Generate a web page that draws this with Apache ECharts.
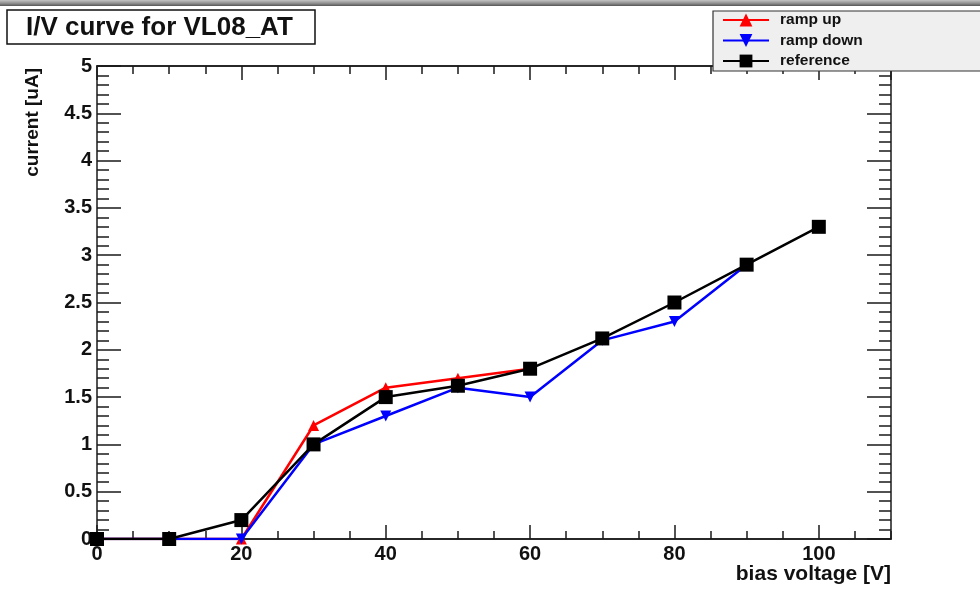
<!DOCTYPE html>
<html>
<head>
<meta charset="utf-8">
<script src="https://cdn.jsdelivr.net/npm/echarts@6/dist/echarts.min.js"></script>
<style>
  html, body { margin: 0; padding: 0; background: #fff; }
  #chart { width: 980px; height: 594px; }
</style>
</head>
<body>
<div id="chart"></div>
<script>
// Bias voltage steps [V]
const voltage = [0, 10, 20, 30, 40, 50, 60, 70, 80, 90, 100];
// Measured current [uA]
const rampUp = [0, 0, 0, 1.2, 1.6, 1.7, 1.8];
const rampDown = [0, 0, 0, 1.0, 1.3, 1.6, 1.5, 2.1, 2.3, 2.9];
const reference = [0, 0, 0.2, 1.0, 1.5, 1.62, 1.8, 2.12, 2.5, 2.9, 3.3];

const seriesNames = ['ramp up', 'ramp down', 'reference'];
const titleText = 'I/V curve for VL08_AT';
const xTitle = 'bias voltage [V]';
const yTitle = 'current [uA]';

const FONT = '"Liberation Sans", Arial, Helvetica, sans-serif';
const AXIS_COLOR = '#1a1a1a';

function pairs(values) {
  return values.map((v, i) => [voltage[i], v]);
}

function xAxisDef(position, interval, tickLen, withLabels) {
  return {
    type: 'value',
    position: position,
    min: 0,
    max: 110,
    interval: interval,
    axisLine: { show: true, onZero: false, lineStyle: { color: AXIS_COLOR, width: 1.5 } },
    axisTick: { show: true, inside: true, length: tickLen, lineStyle: { color: AXIS_COLOR, width: 1.5 } },
    axisLabel: withLabels ? {
      show: true, showMaxLabel: false, margin: 5,
      fontFamily: FONT, fontWeight: 'bold', fontSize: 20, color: '#111'
    } : { show: false },
    splitLine: { show: false }
  };
}

function yAxisDef(position, withLabels) {
  return {
    type: 'value',
    position: position,
    min: 0,
    max: 5,
    interval: 0.5,
    axisLine: { show: true, onZero: false, lineStyle: { color: AXIS_COLOR, width: 1.5 } },
    axisTick: { show: true, inside: true, length: 24, lineStyle: { color: AXIS_COLOR, width: 1.5 } },
    minorTick: { show: true, splitNumber: 5, length: 12, lineStyle: { color: AXIS_COLOR, width: 1.5 } },
    axisLabel: withLabels ? {
      show: true, margin: 5,
      fontFamily: FONT, fontWeight: 'bold', fontSize: 20, color: '#111'
    } : { show: false },
    splitLine: { show: false }
  };
}

const chart = echarts.init(document.getElementById('chart'), null, { renderer: 'canvas' });

chart.setOption({
  backgroundColor: '#ffffff',
  animation: false,
  grid: { left: 97, right: 89, top: 66, bottom: 55, containLabel: false, outerBoundsMode: 'none' },
  xAxis: [
    xAxisDef('bottom', 20, 14, true),
    xAxisDef('bottom', 5, 8, false),
    xAxisDef('top', 20, 14, false),
    xAxisDef('top', 5, 8, false)
  ],
  yAxis: [
    yAxisDef('left', true),
    yAxisDef('right', false)
  ],
  legend: {
    data: seriesNames,
    orient: 'vertical',
    left: 722,
    top: 12,
    padding: 0,
    itemWidth: 46,
    itemHeight: 16,
    itemGap: 4.5,
    z: 10,
    textStyle: {
      fontFamily: FONT, fontWeight: 'bold', fontSize: 15.5, color: '#111',
      padding: [0, 0, 0, 6]
    }
  },
  graphic: [
    {
      type: 'rect', z: 5, silent: true,
      shape: { x: 0, y: 0, width: 980, height: 6 },
      style: {
        fill: new echarts.graphic.LinearGradient(0, 0, 0, 1, [
          { offset: 0, color: '#c4c4c4' },
          { offset: 0.6, color: '#8a8a8a' },
          { offset: 1, color: '#555555' }
        ])
      }
    },
    {
      type: 'rect', z: 5, silent: true,
      shape: { x: 7, y: 10, width: 308, height: 34 },
      style: { fill: '#ffffff', stroke: '#111', lineWidth: 1.5 }
    },
    {
      type: 'text', z: 6, silent: true,
      x: 26, y: 28,
      style: {
        text: titleText, fill: '#111',
        font: 'bold 26px ' + FONT,
        textAlign: 'left', textVerticalAlign: 'middle'
      }
    },
    {
      type: 'rect', z: 5, silent: true,
      shape: { x: 713, y: 11, width: 280, height: 60 },
      style: { fill: '#efefef', stroke: '#333', lineWidth: 1.2 }
    },
    {
      type: 'text', z: 6, silent: true,
      x: 33, y: 68, rotation: Math.PI / 2,
      style: {
        text: yTitle, fill: '#111',
        font: 'bold 19px ' + FONT,
        textAlign: 'right', textVerticalAlign: 'middle'
      }
    },
    {
      type: 'text', z: 6, silent: true,
      x: 891, y: 574,
      style: {
        text: xTitle, fill: '#111',
        font: 'bold 21px ' + FONT,
        textAlign: 'right', textVerticalAlign: 'middle'
      }
    }
  ],
  series: [
    {
      name: 'ramp up', type: 'line', xAxisIndex: 0, yAxisIndex: 0,
      data: pairs(rampUp),
      symbol: 'triangle', symbolSize: 11,
      lineStyle: { color: '#ff0000', width: 2.5 },
      itemStyle: { color: '#ff0000' }
    },
    {
      name: 'ramp down', type: 'line', xAxisIndex: 0, yAxisIndex: 0,
      data: pairs(rampDown),
      symbol: 'triangle', symbolRotate: 180, symbolSize: 11,
      lineStyle: { color: '#0000ff', width: 2.5 },
      itemStyle: { color: '#0000ff' }
    },
    {
      name: 'reference', type: 'line', xAxisIndex: 0, yAxisIndex: 0,
      data: pairs(reference),
      symbol: 'rect', symbolSize: 14,
      lineStyle: { color: '#000000', width: 2.5 },
      itemStyle: { color: '#000000' }
    }
  ]
});
</script>
</body>
</html>
